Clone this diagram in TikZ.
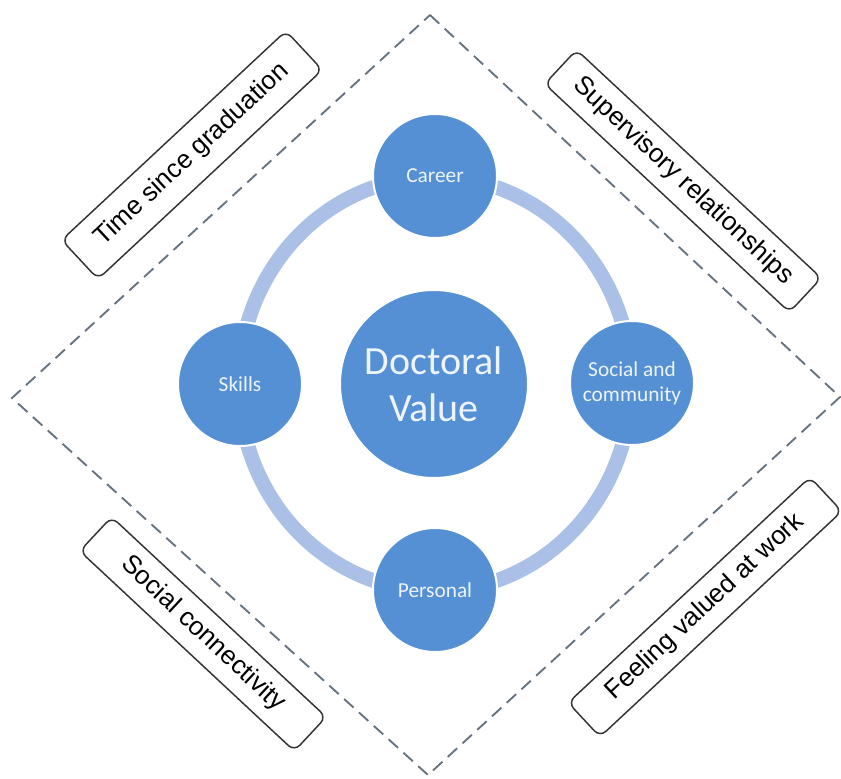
\documentclass[tikz,border=0pt]{standalone}
\usepackage{fontspec}
\newfontfamily\labelfont{Liberation Sans}
\newfontfamily\bubblefont{Carlito}
\usetikzlibrary{positioning}
\definecolor{bubble}{HTML}{5590D5}
\definecolor{ringblue}{HTML}{AAC0E6}
\definecolor{dashgray}{HTML}{66737F}
\definecolor{boxline}{HTML}{333333}
\definecolor{bubbletext}{HTML}{EEF4FB}

\begin{document}
\begin{tikzpicture}[x=0.75pt,y=-0.75pt,
    factor/.style={draw=boxline,line width=1.1pt,rounded corners=6pt,fill=white,minimum height=35pt,font=\labelfont\fontsize{19.5}{22}\selectfont},
    bubble/.style={circle,fill=bubble,draw=white,line width=1.5pt,minimum size=93pt,inner sep=0pt,align=center,text=bubbletext,font=\bubblefont\fontsize{16}{19}\selectfont}]
        \useasboundingbox[fill=white] (0,0) rectangle (841,778);
        % dashed frame
        \coordinate (top) at (430,15);
        \coordinate (right) at (840,397);
        \coordinate (bottom) at (428,775);
        \coordinate (left) at (12,398);
        \draw[dashgray,line width=1.4pt,dash pattern=on 9.5pt off 5.5pt] (top) -- (right) -- (bottom) -- (left) -- cycle;
        % ring behind the bubbles
        \draw[ringblue,line width=11pt] (435,384) ellipse [x radius=196,y radius=207];
        \node[bubble,minimum size=141pt,font=\bubblefont\fontsize{30}{35}\selectfont] (value) at (434,384) {Doctoral\\Value};
        \node[bubble] (career) at (435,176) {Career};
        \node[bubble] (skills) at (240,384) {Skills};
        \node[bubble] (social) at (632,383) {Social and\\community};
        \node[bubble] (personal) at (435,590) {Personal};
        % factors along the frame
        \node[factor,rotate=43,minimum width=230pt,minimum height=40pt] (time) at (192,155) {Time since graduation};
        \node[factor,rotate=-43,minimum width=251pt] (supervision) at (683,181) {Supervisory relationships};
        \node[factor,rotate=-43,minimum width=220pt] (connect) at (203,634) {Social connectivity};
        \node[factor,rotate=43,minimum width=248pt] (valued) at (705,607) {Feeling valued at work};
      \end{tikzpicture}
\end{document}
